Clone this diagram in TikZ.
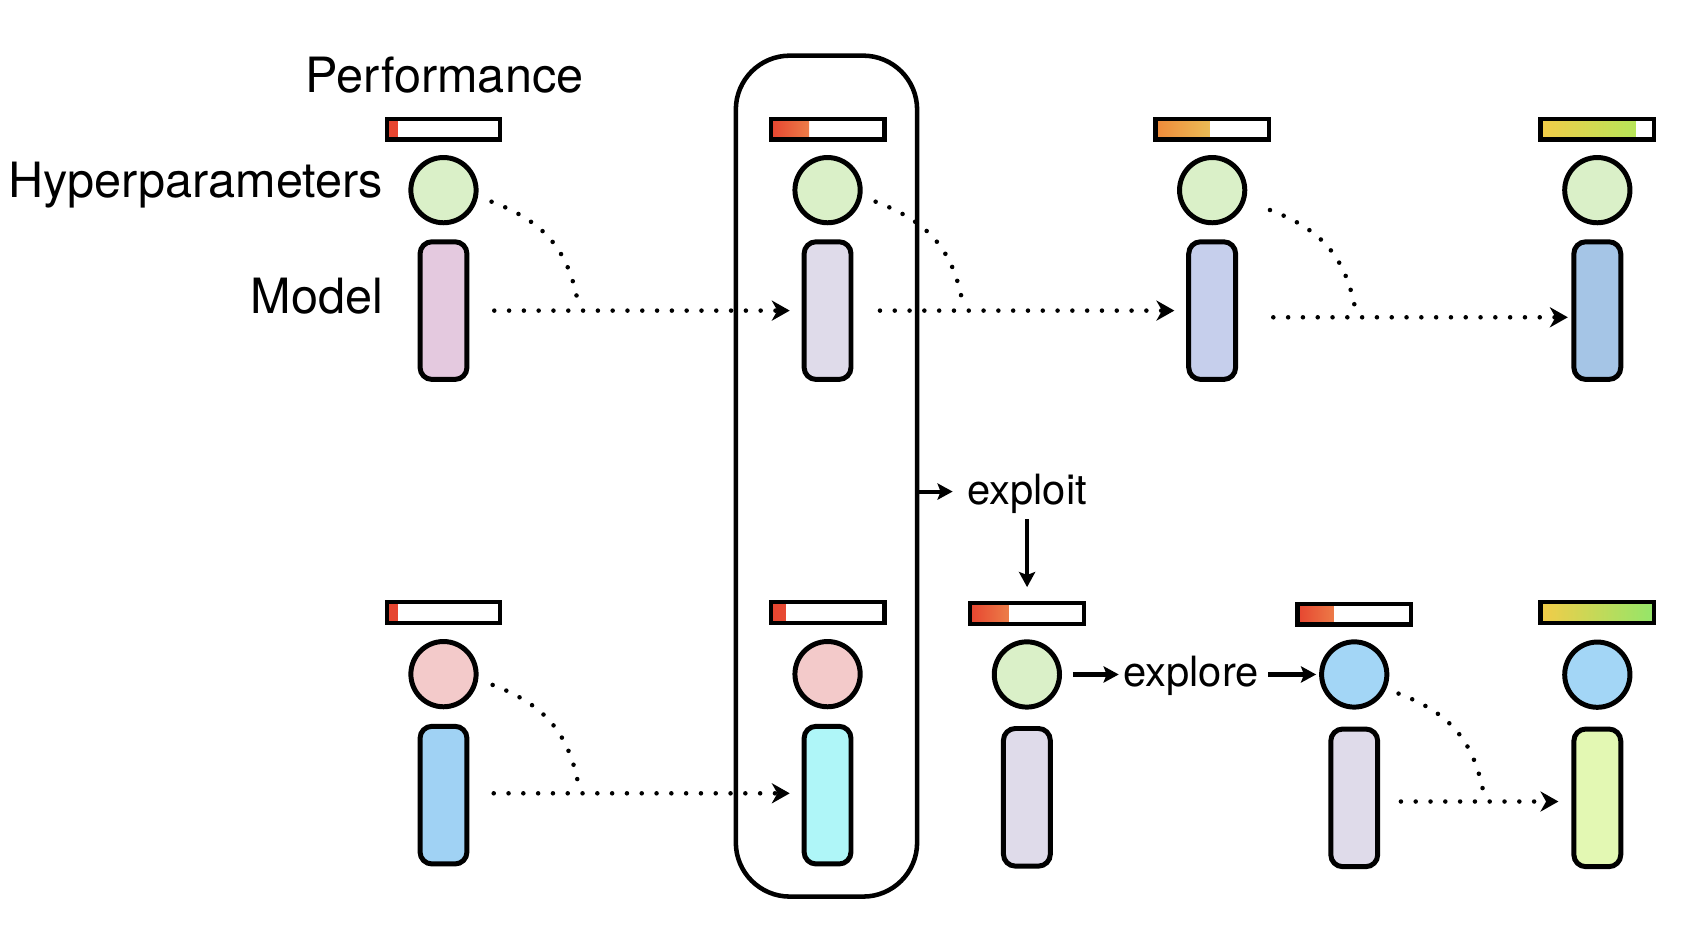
\documentclass[tikz,border=0pt]{standalone}
\usepackage{fontspec}
\setmainfont{TeX Gyre Heros}
\usetikzlibrary{arrows.meta}
\definecolor{hgreen}{HTML}{DAF0C8}
\definecolor{hpink}{HTML}{F3CACA}
\definecolor{hblue}{HTML}{A3D6F6}
\definecolor{mmauve}{HTML}{E4C9DF}
\definecolor{mlav}{HTML}{DFDBEA}
\definecolor{mperi}{HTML}{C6CFEC}
\definecolor{msteel}{HTML}{A5C5E6}
\definecolor{msky}{HTML}{A0D2F4}
\definecolor{mcyan}{HTML}{AFF6F8}
\definecolor{mlime}{HTML}{E3F8B3}
\definecolor{pred}{HTML}{E64530}
\definecolor{pred2}{HTML}{EE6A48}
\definecolor{pmid}{HTML}{F2A24A}
\definecolor{porange}{HTML}{EE8A3A}
\definecolor{pomid}{HTML}{F0C45A}
\definecolor{pyellow}{HTML}{FAEA78}
\definecolor{pyell2}{HTML}{E8F274}
\definecolor{pgold}{HTML}{F3CC48}
\definecolor{pgreen}{HTML}{ABEA5C}
\definecolor{pgreen2}{HTML}{86EA6E}
\begin{document}
\begin{tikzpicture}[x=0.5pt,y=-0.5pt,
  hyp/.style={circle, draw, line width=2.3pt, minimum size=30.2pt, inner sep=0pt},
  mdl/.style={rectangle, rounded corners=5.5pt, draw, line width=2.3pt, minimum width=21.7pt, minimum height=63.7pt, inner sep=0pt},
  pbar/.style n args={4}{rectangle, draw, line width=2pt, minimum width=52.6pt, minimum height=9.55pt, inner sep=0pt, fill=white,
     path picture={\shade[left color=#1, middle color=#2, right color=#3] (path picture bounding box.south west) rectangle ([xshift=#4]path picture bounding box.north west);}},
  elitebox/.style={draw, line width=2.1pt, rounded corners=25pt, minimum width=83.9pt, minimum height=389.2pt, inner sep=0pt},
  dotl/.style={line width=2.1pt, line cap=round, dash pattern=on 0pt off 6.85pt},
  dotarrow/.style={dotl, -{Stealth[length=8.3pt, width=9.3pt, inset=2.6pt]}},
  solidarrow/.style={line width=1.9pt, -{Stealth[length=7pt, width=7.5pt, inset=1.4pt]}},
  lbl/.style={font=\fontsize{22.5pt}{27pt}\selectfont, inner sep=0pt},
  slbl/.style={font=\fontsize{19.3pt}{23pt}\selectfont, inner sep=0pt}
]
\useasboundingbox (0,0) rectangle (1568,872);

% labels
\node[lbl, anchor=base] (perf) at (411.5,86) {Performance};
\node[lbl, anchor=base east] (hyplbl) at (355,183) {Hyperparameters};
\node[lbl, anchor=base east] (mdllbl) at (355,290) {Model};

% selected (elite) box
\node[elitebox] (elite) at (765,440.7) {};

% top row
\node[pbar={pred}{pred}{pred}{5pt}] (p1) at (410.5,119.7) {};
\node[hyp, fill=hgreen] (h1) at (410.5,176) {};
\node[mdl, fill=mmauve] (m1) at (410.5,287.5) {};

\node[pbar={pred}{pmid}{pyellow}{17.75pt}] (p2) at (766,119.7) {};
\node[hyp, fill=hgreen] (h2) at (766,176) {};
\node[mdl, fill=mlav] (m2) at (766,287.5) {};

\node[pbar={porange}{pomid}{pyell2}{25pt}] (p3) at (1122,119.7) {};
\node[hyp, fill=hgreen] (h3) at (1122,176) {};
\node[mdl, fill=mperi] (m3) at (1122,287.5) {};

\node[pbar={pgold}{pgreen!60!pgold}{pgreen}{44pt}] (p4) at (1478.5,119.7) {};
\node[hyp, fill=hgreen] (h4) at (1478.5,176) {};
\node[mdl, fill=msteel] (m4) at (1478.5,287.5) {};

% bottom row
\node[pbar={pred}{pred}{pred}{5.1pt}] (p1b) at (410.5,566.8) {};
\node[hyp, fill=hpink] (h1b) at (410.5,624) {};
\node[mdl, fill=msky] (m1b) at (410.5,736) {};

\node[pbar={pred}{pred!50!pred2}{pred2}{6.8pt}] (p2b) at (766,566.8) {};
\node[hyp, fill=hpink] (h2b) at (766,624) {};
\node[mdl, fill=mcyan] (m2b) at (766,736) {};

\node[pbar={pred}{pmid}{pyellow}{17.8pt}] (p3b) at (950.5,568) {};
\node[hyp, fill=hgreen] (h3b) at (950.5,624.3) {};
\node[mdl, fill=mlav] (m3b) at (950.5,738) {};

\node[pbar={pred}{pmid}{pyellow}{16.8pt}] (p4b) at (1253.5,568.5) {};
\node[hyp, fill=hblue] (h4b) at (1253.5,624.3) {};
\node[mdl, fill=mlav] (m4b) at (1253.5,738.5) {};

\node[pbar={pgold}{pgreen}{pgreen2}{60pt}] (p5b) at (1478.5,566.8) {};
\node[hyp, fill=hblue] (h5b) at (1478.5,624.5) {};
\node[mdl, fill=mlime] (m5b) at (1478.5,738.5) {};

% junction points of hyperparameter copies
\coordinate (j1) at (533.8,274.3);
\coordinate (j2) at (889.8,274.3);
\coordinate (j3) at (1253.6,281.7);
\coordinate (j4) at (534.5,722);
\coordinate (j5) at (1372.3,729.7);

% dotted curves (hyperparameters)
\draw[dotl] ([shift={(44.5,10.7)}]h1.center) .. controls +(45,17) and +(-10,-47) .. (j1);
\draw[dotl] ([shift={(44.5,10.7)}]h2.center) .. controls +(45,17) and +(-10,-47) .. (j2);
\draw[dotl] ([shift={(53.5,18.4)}]h3.center) .. controls +(45,17) and +(-10,-47) .. (j3);
\draw[dotl] ([shift={(45.5,10)}]h1b.center) .. controls +(45,17) and +(-10,-47) .. (j4);
\draw[dotl] ([shift={(41,17.7)}]h4b.center) .. controls +(45,17) and +(-10,-47) .. (j5);

% dotted arrows (models)
\draw[dotarrow, shorten <=11.5pt, shorten >=5.5pt] (m1.east) -- (m2.west);
\draw[dotarrow, shorten <=12.25pt, shorten >=5.5pt] (m2.east) -- (m3.west);
\draw[dotarrow, shorten <=16.3pt, shorten >=1.65pt] ([yshift=-3.1pt]m3.east) -- ([yshift=-3.1pt]m4.west);
\draw[dotarrow, shorten <=11.25pt, shorten >=5.5pt] ([yshift=0.85pt]m1b.east) -- ([yshift=0.85pt]m2b.west);
\draw[dotarrow, shorten <=9.6pt, shorten >=6pt] ([yshift=-1.7pt]m4b.east) -- ([yshift=-1.7pt]m5b.west);

% exploit / explore
\node[slbl, anchor=base west] (exploit) at (895,467.4) {exploit};
\node[slbl, anchor=base west] (explore) at (1039.5,635.6) {explore};

\draw[solidarrow, shorten >=6.6pt] ([yshift=-7.15pt]elite.east) -- ([yshift=-7.15pt]elite.east -| exploit.west);
\draw[solidarrow, shorten <=2.2pt, shorten >=6.5pt] (exploit.south) -- (exploit.south |- p3b.north);
\draw[solidarrow, shorten <=5pt, shorten >=2pt] (h3b.east) -- (h3b.east -| explore.west);
\draw[solidarrow, shorten <=4.3pt, shorten >=1.4pt] (explore.east |- h4b.west) -- (h4b.west);
\end{tikzpicture}
\end{document}
